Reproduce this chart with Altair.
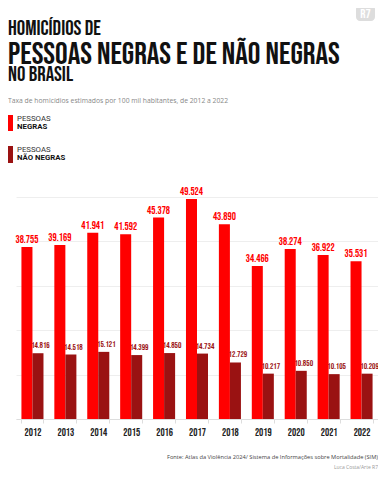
import altair as alt
import pandas as pd

years = ["2012", "2013", "2014", "2015", "2016", "2017", "2018", "2019", "2020", "2021", "2022"]
negras = [38.755, 39.169, 41.941, 41.592, 45.378, 49.524, 43.890, 34.466, 38.274, 36.922, 35.531]
nao_negras = [14.816, 14.518, 15.121, 14.399, 14.850, 14.734, 12.729, 10.217, 10.850, 10.105, 10.209]
groups = ["Negras", "Não negras"]
colors = ["#ff0000", "#9a1212"]

rows = []
for y, a, b in zip(years, negras, nao_negras):
    rows.append({"ano": y, "grupo": groups[0], "taxa": a})
    rows.append({"ano": y, "grupo": groups[1], "taxa": b})
df = pd.DataFrame(rows)

BEBAS = "Bebas Neue, Oswald, sans-serif"
SANS = "Open Sans, sans-serif"
ROBO = "Roboto, sans-serif"

x_enc = alt.X("ano:N", sort=years, title=None,
              scale=alt.Scale(paddingInner=0.33, paddingOuter=0.165),
              axis=alt.Axis(labelAngle=0, labelFont=BEBAS, labelFontWeight="normal", labelFontSize=10.5,
                            labelColor="#222", tickBand="extent", tickColor="#dddddd", tickSize=4,
                            domainColor="#dddddd", labelPadding=4))
xo_enc = alt.XOffset("grupo:N", sort=groups, scale=alt.Scale(paddingInner=0, paddingOuter=0))
y_enc = alt.Y("taxa:Q", title=None, scale=alt.Scale(domain=[0, 50], nice=False),
              axis=alt.Axis(values=[0, 10, 20, 30, 40, 50], labels=False, ticks=False, domain=False,
                            gridColor="#eeeeee"))
color_enc = alt.Color("grupo:N", sort=groups, scale=alt.Scale(domain=groups, range=colors), legend=None)

base = alt.Chart(df)
bars = base.mark_bar().encode(x=x_enc, xOffset=xo_enc, y=y_enc, color=color_enc)

lab_neg = base.transform_filter(alt.datum.grupo == groups[0]).mark_text(
    font=BEBAS, fontSize=10.5, baseline="bottom", dy=-2, color=colors[0]
).encode(x=alt.X("ano:N", sort=years), xOffset=xo_enc, y="taxa:Q", text=alt.Text("taxa:Q", format=".3f"))

lab_non = base.transform_filter(alt.datum.grupo == groups[1]).mark_text(
    font=BEBAS, fontSize=8.5, baseline="bottom", dy=-3, dx=2.5, color=colors[1]
).encode(x=alt.X("ano:N", sort=years), xOffset=xo_enc, y="taxa:Q", text=alt.Text("taxa:Q", format=".3f"))

one = pd.DataFrame({"k": [0]})


def txt(s, x, y, size, font=SANS, weight="normal", color="#222", align="left", baseline="alphabetic"):
    return alt.Chart(one).mark_text(font=font, fontSize=size, fontWeight=weight, color=color,
                                    align=align, baseline=baseline).encode(
        x=alt.value(x), y=alt.value(y), text=alt.value(s))


def box(x1, x2, y1, y2, color, r=0):
    return alt.Chart(one).mark_rect(color=color, cornerRadius=r).encode(
        x=alt.value(x1), x2=alt.value(x2), y=alt.value(y1), y2=alt.value(y2))


annots = [
    box(340, 359, -192, -176, "#dddddd", 4),
    txt("R7", 349.5, -183.5, 13, font=BEBAS, color="white", align="center", baseline="middle"),
    txt("HOMICÍDIOS DE", -8, -162, 21, font=BEBAS, color="#111"),
    txt("PESSOAS NEGRAS E DE NÃO NEGRAS", -8, -133, 31.5, font=BEBAS, color="#111"),
    txt("NO BRASIL", -8, -116, 21, font=BEBAS, color="#111"),
    txt("Taxa de homicídios estimados por 100 mil habitantes, de 2012 a 2022", -8, -94, 6.8, color="#888"),
    box(-8, -3, -82, -66, colors[0]),
    txt("PESSOAS", 1, -78, 7.8, font=ROBO, color="#333", baseline="middle"),
    txt("NEGRAS", 1, -70, 7.8, font=ROBO, weight="bold", color="#111", baseline="middle"),
    box(-8, -3, -51, -34, colors[1]),
    txt("PESSOAS", 1, -47, 7.8, font=ROBO, color="#333", baseline="middle"),
    txt("NÃO NEGRAS", 1, -39, 7.8, font=ROBO, weight="bold", color="#111", baseline="middle"),
    txt("Fonte: Atlas da Violência 2024/ Sistema de Informações sobre Mortalidade (SIM)", 362, 260, 5.7,
        color="#444", align="right", baseline="middle"),
    txt("Luca Costa/Arte R7", 362, 270, 5, color="#999", align="right", baseline="middle"),
]

chart = alt.layer(bars, lab_neg, lab_non, *annots).properties(
    width=362, height=222,
    padding={"left": 8, "top": 189, "right": 0, "bottom": 56},
    autosize=alt.AutoSizeParams(type="none"),
).configure_view(stroke=None)

chart.save("out.html", embed_options={"renderer": "svg", "actions": False})
